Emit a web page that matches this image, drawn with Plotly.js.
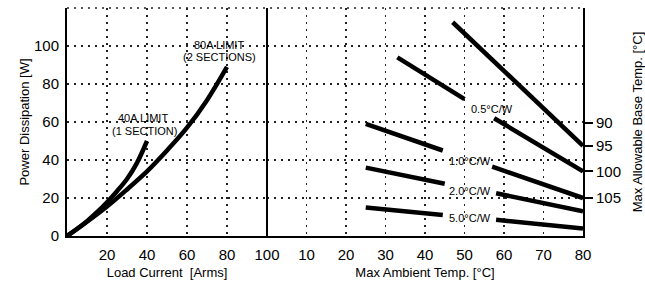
<!DOCTYPE html>
<html><head><meta charset="utf-8">
<script src="https://cdn.plot.ly/plotly-3.0.1.min.js"></script>
<style>html,body{margin:0;padding:0;background:#fff}</style>
</head><body><div id="chart" style="width:645px;height:286px"></div>
<script>
// Left panel: power dissipation vs load current
const current40 = [0, 5, 10, 15, 20, 25, 30, 35, 40];
const power40   = [0, 3.7, 7.8, 12.5, 17.8, 23.6, 30, 38.5, 50];
const current80 = [0, 10, 20, 30, 40, 50, 60, 70, 80];
const power80   = [0, 7.5, 15.5, 24.5, 34, 45, 57, 71.5, 89];

// Right panel: power vs max ambient temp (segments broken by labels)
const ambientSteep = [47, 80];
const powerSteep   = [112.5, 47.5];
const ambient05 = [33, 50, null, 57.5, 80];
const power05   = [94, 72, null, 62, 34];
const ambient10 = [25, 44.5, null, 57, 80];
const power10   = [59, 45, null, 36.5, 20];
const ambient20 = [25, 45, null, 58, 80];
const power20   = [36, 27.5, null, 22.5, 13];
const ambient50 = [25, 44.5, null, 58, 80];
const power50   = [15, 11, null, 8.5, 4];

const leftTicks = [20, 40, 60, 80, 100];
const rightTicks = [10, 20, 30, 40, 50, 60, 70, 80];
const powerTicks = [0, 20, 40, 60, 80, 100];
const baseTempVals = [59.5, 47.5, 34, 20];
const baseTempText = ['90', '95', '100', '105'];

const F = 'Liberation Sans, Arial, sans-serif';
const lineStyle = {color: '#000', width: 4.5};
const dotGrid = {showgrid: true, gridcolor: '#222', gridwidth: 1.5, griddash: '2px,5px'};
const hiddenTicks = {ticks: 'outside', tickcolor: 'rgba(0,0,0,0)', tickwidth: 1};

const traces = [
  {x: current40, y: power40, xaxis: 'x', yaxis: 'y', mode: 'lines', line: Object.assign({shape: 'spline'}, lineStyle)},
  {x: current80, y: power80, xaxis: 'x', yaxis: 'y', mode: 'lines', line: Object.assign({shape: 'spline'}, lineStyle)},
  {x: ambientSteep, y: powerSteep, xaxis: 'x2', yaxis: 'y', mode: 'lines', line: lineStyle},
  {x: ambient05, y: power05, xaxis: 'x2', yaxis: 'y', mode: 'lines', line: lineStyle, connectgaps: false},
  {x: ambient10, y: power10, xaxis: 'x2', yaxis: 'y', mode: 'lines', line: lineStyle, connectgaps: false},
  {x: ambient20, y: power20, xaxis: 'x2', yaxis: 'y', mode: 'lines', line: lineStyle, connectgaps: false},
  {x: ambient50, y: power50, xaxis: 'x2', yaxis: 'y', mode: 'lines', line: lineStyle, connectgaps: false},
  {x: [null], y: [null], xaxis: 'x2', yaxis: 'y2', mode: 'lines', hoverinfo: 'skip'}
];

const split = 200 / 516;
const annFont = {family: F, size: 11, color: '#000'};
function ann(text, x, y, xref) {
  return {text: text, x: x, y: y, xref: xref, yref: 'y', showarrow: false, font: annFont, xanchor: 'center', yanchor: 'middle'};
}

const layout = {
  width: 645, height: 286,
  margin: {l: 67, r: 62, t: 8, b: 50},
  showlegend: false,
  font: {family: F, color: '#000'},
  xaxis: Object.assign({
    domain: [0, split], range: [0, 100], anchor: 'y',
    tickvals: leftTicks, ticktext: leftTicks.map(String),
    ticklen: 4, tickfont: {family: F, size: 15},
    showline: true, linecolor: '#000', linewidth: 2, zeroline: false,
    title: {text: 'Load Current\u00a0 [Arms]', font: {family: F, size: 13}, standoff: 6}
  }, hiddenTicks, dotGrid),
  xaxis2: Object.assign({
    domain: [split, 1], range: [0, 80], anchor: 'y',
    tickvals: rightTicks, ticktext: rightTicks.map(String),
    ticklen: 4, tickfont: {family: F, size: 15},
    showline: true, linecolor: '#000', linewidth: 2, zeroline: false,
    title: {text: 'Max Ambient Temp. [°C]', font: {family: F, size: 13}, standoff: 6}
  }, hiddenTicks, dotGrid),
  yaxis: Object.assign({
    range: [0, 120], anchor: 'x',
    tickvals: powerTicks, ticktext: powerTicks.map(String),
    ticklen: 3, tickfont: {family: F, size: 15},
    showline: true, linecolor: '#000', linewidth: 2, zeroline: false,
    title: {text: 'Power Dissipation [W]', font: {family: F, size: 13}, standoff: 1}
  }, hiddenTicks, dotGrid),
  yaxis2: {
    range: [0, 120], overlaying: 'y', anchor: 'x2', side: 'right',
    tickvals: baseTempVals, ticktext: baseTempText,
    ticks: 'outside', ticklen: 8, tickwidth: 2, tickcolor: '#000',
    tickfont: {family: F, size: 15},
    showline: true, linecolor: '#000', linewidth: 2, showgrid: false, zeroline: false,
    title: {text: 'Max Allowable Base Temp. [°C]', font: {family: F, size: 13}, standoff: 13}
  },
  shapes: [
    {type: 'line', xref: 'x domain', yref: 'y domain', x0: 1, x1: 1, y0: 0, y1: 1, line: {color: '#000', width: 2}},
    {type: 'line', xref: 'paper', yref: 'y domain', x0: 0, x1: 1, y0: 1, y1: 1, line: {color: '#222', width: 1.5, dash: '2px,5px'}}
  ],
  annotations: [
    ann('80A LIMIT', 76, 100.5, 'x'),
    ann('(2 SECTIONS)', 76, 94, 'x'),
    ann('40A LIMIT', 38, 62, 'x'),
    ann('(1 SECTION)', 38.5, 55.5, 'x'),
    ann('0.5°C/W', 56.9, 66.6, 'x2'),
    ann('1.0°C/W', 51.4, 39.4, 'x2'),
    ann('2.0°C/W', 51.4, 23.9, 'x2'),
    ann('5.0°C/W', 51.4, 9.6, 'x2')
  ]
};

Plotly.newPlot('chart', traces, layout, {staticPlot: true, displayModeBar: false});
</script></body></html>
